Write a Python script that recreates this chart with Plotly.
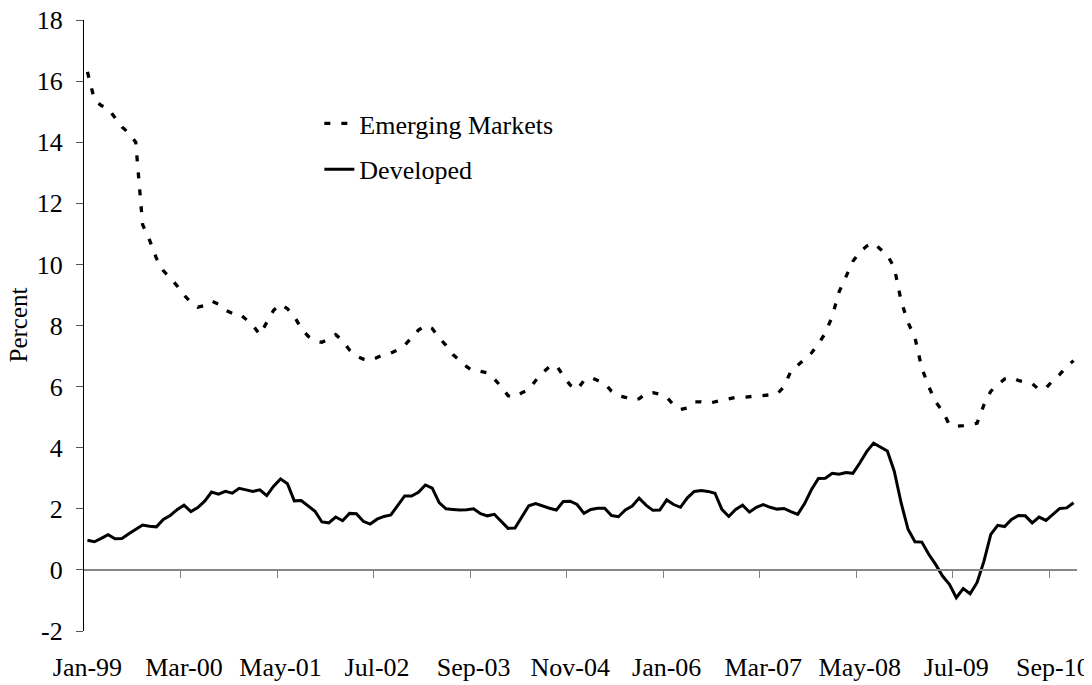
import plotly.graph_objects as go

# ---------------- data ----------------
tick_labels = ["Jan-99", "Mar-00", "May-01", "Jul-02", "Sep-03", "Nov-04",
               "Jan-06", "Mar-07", "May-08", "Jul-09", "Sep-10"]
y_tick_values = [-2, 0, 2, 4, 6, 8, 10, 12, 14, 16, 18]
y_tick_text = ["-2", "0", "2", "4", "6", "8", "10", "12", "14", "16", "18"]

emerging = [
    16.3, 15.4, 15.2, 15.1, 14.8, 14.5, 14.3, 14.0, 11.3, 10.8,
    10.2, 9.8, 9.55, 9.3, 9.0, 8.75, 8.6, 8.65, 8.8, 8.7,
    8.5, 8.4, 8.4, 8.2, 8.0, 7.7, 8.1, 8.5, 8.7, 8.55,
    8.3, 7.9, 7.65, 7.5, 7.45, 7.55, 7.7, 7.5, 7.2, 7.0,
    6.9, 6.85, 6.95, 7.05, 7.1, 7.2, 7.35, 7.6, 7.85, 8.0,
    7.9, 7.6, 7.35, 7.05, 6.85, 6.65, 6.5, 6.5, 6.45, 6.25,
    6.0, 5.7, 5.65, 5.8, 5.9, 6.2, 6.45, 6.65, 6.7, 6.35,
    6.05, 5.9, 6.2, 6.3, 6.2, 6.1, 5.85, 5.7, 5.65, 5.55,
    5.6, 5.78, 5.8, 5.75, 5.65, 5.4, 5.25, 5.3, 5.5, 5.5,
    5.45, 5.5, 5.55, 5.6, 5.65, 5.65, 5.67, 5.7, 5.72, 5.75,
    5.75, 6.0, 6.5, 6.7, 6.9, 7.1, 7.4, 7.75, 8.3, 9.1,
    9.6, 10.1, 10.4, 10.6, 10.7, 10.5, 10.3, 9.9, 8.8, 8.1,
    7.6, 6.6, 6.0, 5.5, 5.2, 4.75, 4.7, 4.72, 4.75, 4.8,
    5.4, 5.85, 6.05, 6.25, 6.3, 6.2, 6.15, 6.1, 5.9, 5.95,
    6.2, 6.4, 6.65, 6.85,
]

developed = [
    0.97, 0.92, 1.03, 1.15, 1.02, 1.03, 1.18, 1.34, 1.47, 1.43,
    1.41, 1.65, 1.78, 1.97, 2.12, 1.91, 2.04, 2.25, 2.55, 2.48,
    2.57, 2.51, 2.67, 2.62, 2.57, 2.62, 2.43, 2.74, 2.98, 2.82,
    2.26, 2.27, 2.11, 1.92, 1.57, 1.54, 1.73, 1.61, 1.85, 1.84,
    1.59, 1.50, 1.66, 1.75, 1.80, 2.11, 2.42, 2.42, 2.54, 2.78,
    2.68, 2.20, 2.00, 1.98, 1.96, 1.97, 2.00, 1.84, 1.77, 1.82,
    1.59, 1.36, 1.37, 1.73, 2.10, 2.17, 2.09, 2.02, 1.96, 2.24,
    2.25, 2.14, 1.85, 1.98, 2.02, 2.02, 1.78, 1.74, 1.96, 2.09,
    2.35, 2.12, 1.95, 1.96, 2.29, 2.14, 2.05, 2.36, 2.57, 2.60,
    2.57, 2.51, 1.98, 1.75, 1.98, 2.12, 1.89, 2.05, 2.14, 2.05,
    1.99, 2.01, 1.91, 1.82, 2.17, 2.63, 2.99, 3.00, 3.16, 3.13,
    3.19, 3.16, 3.50, 3.87, 4.15, 4.03, 3.89, 3.23, 2.19, 1.33,
    0.92, 0.91, 0.51, 0.18, -0.20, -0.47, -0.91, -0.61, -0.78, -0.42,
    0.28, 1.16, 1.46, 1.42, 1.65, 1.78, 1.77, 1.54, 1.73, 1.62,
    1.82, 2.01, 2.03, 2.20,
]

# ---------------- layout helpers ----------------
n = len(developed)
x = list(range(n))
label_step = 14
label_pos = list(range(0, n, label_step))
tick_pos = [p - 0.5 for p in range(label_step, n, label_step)]
y_range = [-2, 18]
x_range = [-0.5, n - 0.5]
zero_frac = (0 - y_range[0]) / (y_range[1] - y_range[0])

FONT = "Liberation Serif, Times New Roman, serif"
FS = 26

fig = go.Figure()
fig.add_trace(go.Scatter(
    x=x, y=emerging, name="Emerging Markets", mode="lines",
    line=dict(color="black", width=3.3, dash="6px,11px"),
    xaxis="x", yaxis="y", legendgroup="em",
))
fig.add_trace(go.Scatter(
    x=x, y=developed, name="Developed", mode="lines",
    line=dict(color="black", width=3),
    xaxis="x2", yaxis="y", legendgroup="dev",
))

# the page body adds an 8px offset, so the figure is 8px smaller each way
fig.update_layout(
    width=1084, height=677,
    margin=dict(l=76, r=15, t=12, b=54),
    paper_bgcolor="white", plot_bgcolor="white",
    font=dict(family=FONT, size=FS, color="black"),
    xaxis=dict(
        range=x_range, tickmode="array", tickvals=label_pos, ticktext=tick_labels,
        ticks="", showline=False, showgrid=False, zeroline=False,
        ticklabelstandoff=18, tickfont=dict(size=FS), automargin=False,
        ticklabeloverflow="allow",
    ),
    xaxis2=dict(
        range=x_range, overlaying="x", anchor="free", position=zero_frac,
        tickmode="array", tickvals=tick_pos, ticks="outside", ticklen=7,
        tickwidth=1.3, tickcolor="#808080", showticklabels=False,
        showline=True, linecolor="#868686", linewidth=1.5,
        showgrid=False, zeroline=False, automargin=False,
    ),
    yaxis=dict(
        range=y_range, tickmode="array", tickvals=y_tick_values, ticktext=y_tick_text,
        ticks="outside", ticklen=7, tickwidth=1.2, tickcolor="#555555",
        showline=True, linecolor="black", linewidth=1.3,
        showgrid=False, zeroline=False, ticklabelstandoff=8,
        tickfont=dict(size=FS), automargin=False, ticklabeloverflow="allow",
    ),
    showlegend=True,
    legend=dict(
        x=0.237, y=0.869, xanchor="left", yanchor="top",
        bgcolor="rgba(0,0,0,0)", borderwidth=0,
        font=dict(size=FS), tracegroupgap=9, traceorder="grouped",
    ),
    annotations=[dict(
        text="Percent", xref="paper", yref="paper",
        x=(18 - 84) / 993, y=0.5, textangle=-90, showarrow=False,
        font=dict(size=25), xanchor="center", yanchor="middle",
    )],
)

fig.write_html("out.html")
